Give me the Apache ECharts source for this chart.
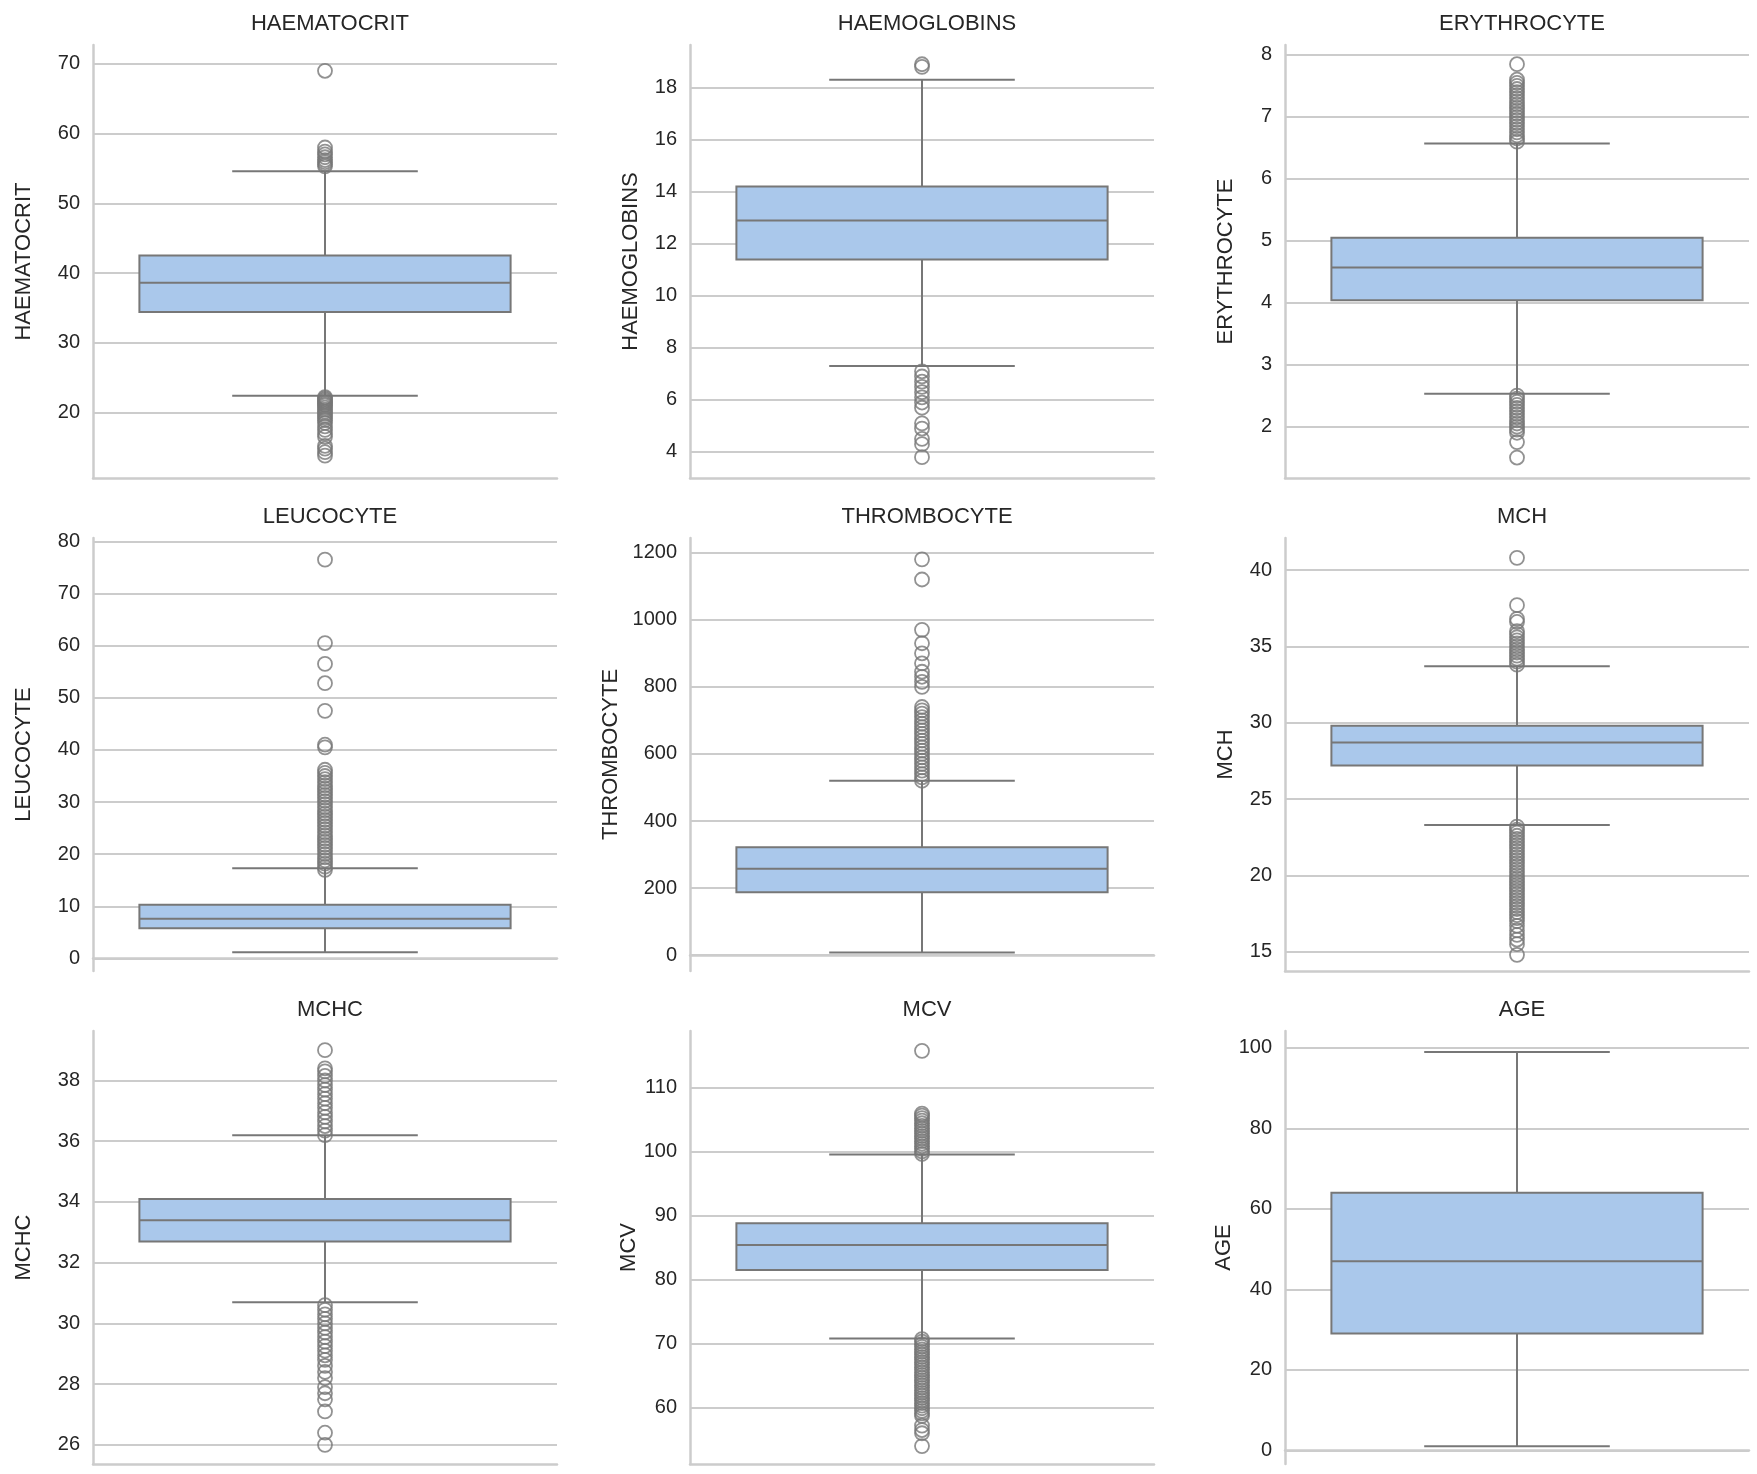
<!DOCTYPE html>
<html><head><meta charset="utf-8">
<script src="https://cdn.jsdelivr.net/npm/echarts@6/dist/echarts.min.js"></script>
<style>html,body{margin:0;padding:0;background:#fff}#c{width:1757px;height:1474px}</style>
</head><body><div id="c"></div>
<script>
const names = ['HAEMATOCRIT','HAEMOGLOBINS','ERYTHROCYTE','LEUCOCYTE','THROMBOCYTE','MCH','MCHC','MCV','AGE'];
// [lowWhisker, Q1, median, Q3, highWhisker]
const boxStats = [
  [22.4, 34.4, 38.6, 42.5, 54.6],
  [7.3, 11.4, 12.9, 14.2, 18.3],
  [2.53, 4.04, 4.57, 5.05, 6.57],
  [1.2, 5.8, 7.6, 10.3, 17.3],
  [8, 188, 258, 322, 520],
  [23.3, 27.2, 28.7, 29.8, 33.7],
  [30.7, 32.7, 33.4, 34.1, 36.2],
  [70.8, 81.5, 85.4, 88.8, 99.5],
  [1, 29, 47, 64, 99]
];
const outliers = [
  [69, 58, 57.4, 57, 56.6, 56.2, 55.9, 55.6, 55.3, 22.2, 22, 21.8, 21.6, 21.4, 21.2, 21, 20.7, 20.4, 20.1, 19.8, 19.5, 19.2, 18.9, 18.5, 18, 17.5, 17, 16.5, 15.2, 14.8, 14.3, 13.8],
  [18.8, 18.9, 7.1, 6.9, 6.7, 6.5, 6.3, 6.1, 5.9, 5.7, 5.1, 4.9, 4.5, 4.3, 3.8],
  [6.6, 6.65, 6.7, 6.75, 6.8, 6.85, 6.9, 6.95, 7.0, 7.05, 7.1, 7.15, 7.2, 7.25, 7.3, 7.35, 7.4, 7.45, 7.5, 7.55, 7.6, 7.85, 2.5, 2.45, 2.4, 2.35, 2.3, 2.25, 2.2, 2.15, 2.1, 2.05, 2.0, 1.95, 1.9, 1.75, 1.5],
  [17, 17.6, 18.2, 18.8, 19.4, 20, 20.6, 21.2, 21.8, 22.4, 23, 23.6, 24.2, 24.8, 25.4, 26, 26.6, 27.2, 27.8, 28.4, 29, 29.6, 30.2, 30.8, 31.4, 32, 32.6, 33.2, 33.8, 34.4, 35, 35.6, 36.2, 40.5, 41, 47.5, 52.8, 56.5, 60.5, 76.5],
  [520, 530, 540, 550, 560, 570, 580, 590, 600, 610, 620, 630, 640, 650, 660, 670, 680, 690, 700, 710, 720, 730, 740, 800, 815, 830, 845, 870, 900, 930, 970, 1120, 1180],
  [33.8, 34.0, 34.2, 34.4, 34.6, 34.8, 35.0, 35.2, 35.4, 35.6, 35.8, 36.0, 36.6, 36.8, 37.7, 40.8, 23.2, 23.0, 22.8, 22.6, 22.4, 22.2, 22.0, 21.8, 21.6, 21.4, 21.2, 21.0, 20.8, 20.6, 20.4, 20.2, 20.0, 19.8, 19.6, 19.4, 19.2, 19.0, 18.8, 18.6, 18.4, 18.2, 18.0, 17.8, 17.6, 17.4, 17.2, 17.0, 16.7, 16.4, 16.1, 15.8, 15.5, 14.8],
  [36.2, 36.35, 36.5, 36.65, 36.8, 36.95, 37.1, 37.25, 37.4, 37.55, 37.7, 37.85, 38.0, 38.15, 38.3, 38.4, 39, 30.6, 30.45, 30.3, 30.15, 30.0, 29.85, 29.7, 29.55, 29.4, 29.25, 29.1, 28.95, 28.8, 28.6, 28.4, 28.2, 27.9, 27.7, 27.5, 27.1, 26.4, 26.0],
  [99.6, 100, 100.4, 100.8, 101.2, 101.6, 102, 102.4, 102.8, 103.2, 103.6, 104, 104.4, 104.8, 105.2, 105.6, 105.9, 115.7, 70.7, 70.3, 69.9, 69.5, 69.1, 68.7, 68.3, 67.9, 67.5, 67.1, 66.7, 66.3, 65.9, 65.5, 65.1, 64.7, 64.3, 63.9, 63.5, 63.1, 62.7, 62.3, 61.9, 61.5, 61.1, 60.7, 60.3, 59.9, 59.5, 59.1, 58.7, 57.2, 56.5, 56, 54],
  []
];
const yMins = [10.6, 3.0, 1.17, -2.4, -47, 13.74, 25.37, 51.2, -3.4];
const yMaxs = [72.7, 19.64, 8.16, 80.65, 1243.7, 42.1, 39.63, 118.8, 104.2];
const tickValues = [
  [20, 30, 40, 50, 60, 70],
  [4, 6, 8, 10, 12, 14, 16, 18],
  [2, 3, 4, 5, 6, 7, 8],
  [0, 10, 20, 30, 40, 50, 60, 70, 80],
  [0, 200, 400, 600, 800, 1000, 1200],
  [15, 20, 25, 30, 35, 40],
  [26, 28, 30, 32, 34, 36, 38],
  [60, 70, 80, 90, 100, 110],
  [0, 20, 40, 60, 80, 100]
];

const lefts = [93, 690, 1285], tops = [45, 538, 1031];
const W = 464, H = 433;
const grids = [], xAxes = [], yAxes = [], series = [], titles = [];
const lineCol = '#777777';
const FONT = 'Liberation Sans';
names.forEach((n, i) => {
  const l = lefts[i % 3], t = tops[Math.floor(i / 3)];
  grids.push({left: l, top: t, width: W, height: H});
  titles.push({text: n, left: l + W / 2, top: t - 37, textAlign: 'center',
    textStyle: {fontFamily: FONT, fontSize: 22, fontWeight: 'normal', color: '#262626'}});
  xAxes.push({type: 'category', gridIndex: i, data: [''],
    axisLine: {show: true, lineStyle: {color: '#cccccc', width: 2.5}},
    axisTick: {show: false}, axisLabel: {show: false}, splitLine: {show: false}});
  yAxes.push({type: 'value', gridIndex: i, min: yMins[i], max: yMaxs[i],
    name: n, nameLocation: 'middle', nameGap: i % 3 === 0 ? 58 : (i === 4 ? 68 : 48), nameRotate: 90,
    nameTextStyle: {fontFamily: FONT, fontSize: 22, color: '#262626'},
    axisLine: {show: true, lineStyle: {color: '#cccccc', width: 2.5}},
    axisTick: {show: false}, splitLine: {show: false},
    axisLabel: {customValues: tickValues[i], formatter: v => String(v), fontFamily: FONT, fontSize: 20, color: '#262626', margin: 13}});
  series.push({type: 'custom', xAxisIndex: i, yAxisIndex: i, z: 3,
    data: [[0].concat(boxStats[i])],
    renderItem: function (params, api) {
      const bw = api.size([1, 0])[0];
      const cx = api.coord([0, api.value(3)])[0];
      const y = k => api.coord([0, api.value(k)])[1];
      const hb = bw * 0.4, hc = bw * 0.2;
      const ls = {stroke: lineCol, lineWidth: 2};
      return {type: 'group', children: [
        {type: 'line', shape: {x1: cx, y1: y(1), x2: cx, y2: y(2)}, style: ls},
        {type: 'line', shape: {x1: cx, y1: y(4), x2: cx, y2: y(5)}, style: ls},
        {type: 'line', shape: {x1: cx - hc, y1: y(1), x2: cx + hc, y2: y(1)}, style: ls},
        {type: 'line', shape: {x1: cx - hc, y1: y(5), x2: cx + hc, y2: y(5)}, style: ls},
        {type: 'rect', shape: {x: cx - hb, y: y(4), width: 2 * hb, height: y(2) - y(4)},
          style: {fill: '#aac8eb', stroke: lineCol, lineWidth: 2}},
        {type: 'line', shape: {x1: cx - hb, y1: y(3), x2: cx + hb, y2: y(3)}, style: ls}
      ]};
    },
    markLine: {silent: true, symbol: 'none', label: {show: false}, z: 1,
      lineStyle: {color: '#cccccc', width: 2, type: 'solid'},
      data: tickValues[i].map(v => ({yAxis: v}))}
  });
  series.push({type: 'scatter', xAxisIndex: i, yAxisIndex: i, z: 4,
    symbol: 'circle', symbolSize: 14,
    itemStyle: {color: 'rgba(255,255,255,0)', borderColor: lineCol, borderWidth: 1.8},
    data: outliers[i].map(v => [0, v])});
});
const chart = echarts.init(document.getElementById('c'));
chart.setOption({animation: false, title: titles, grid: grids, xAxis: xAxes, yAxis: yAxes, series: series});
</script></body></html>
